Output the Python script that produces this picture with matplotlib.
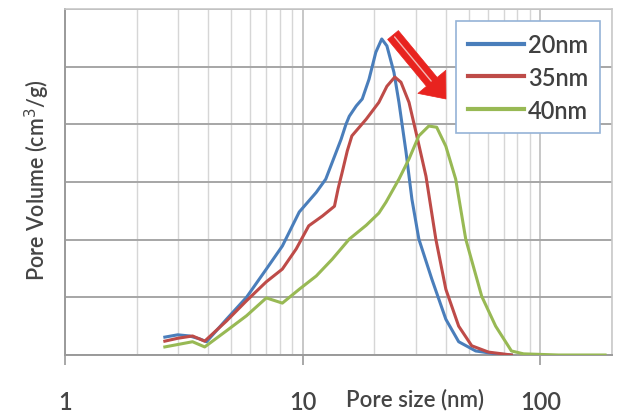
import matplotlib
matplotlib.use("Agg")
import matplotlib.pyplot as plt
from matplotlib.ticker import LogLocator, NullFormatter, FixedLocator

# Pore size distributions (pore size in nm, pore volume in cm3/g)
size_20 = [2.63, 2.98, 3.34, 3.68, 3.94, 4.78, 5.80, 7.03, 8.21, 9.67, 11.4, 12.5,
           14.5, 15.2, 15.7, 16.8, 17.8, 19.0, 20.3, 21.5, 22.6, 24.2, 25.4, 27.2, 28.8, 30.8,
           34.9, 40.0, 45.3, 53.4, 64.8, 75.5]
vol_20 = [0.031, 0.035, 0.033, 0.028, 0.023, 0.062, 0.100, 0.149, 0.189, 0.248, 0.282, 0.305,
          0.374, 0.400, 0.414, 0.432, 0.444, 0.478, 0.525, 0.548, 0.536, 0.490, 0.438, 0.352,
          0.270, 0.201, 0.132, 0.062, 0.023, 0.007, 0.002, 0.0]

size_35 = [2.63, 2.98, 3.44, 3.87, 4.78, 5.80, 7.03, 8.21, 9.39, 10.6, 12.1, 13.6,
           14.1, 14.6, 15.4, 16.1, 17.3, 18.5, 20.9, 22.6, 24.4, 25.9, 28.0, 30.2, 33.0, 36.3,
           40.0, 45.3, 51.4, 60.5, 75.5]
vol_35 = [0.024, 0.029, 0.033, 0.024, 0.059, 0.094, 0.127, 0.149, 0.184, 0.224, 0.241, 0.258,
          0.289, 0.314, 0.354, 0.380, 0.395, 0.409, 0.438, 0.466, 0.482, 0.473, 0.438, 0.380,
          0.310, 0.201, 0.114, 0.050, 0.016, 0.005, 0.0]

size_40 = [2.63, 3.44, 3.87, 4.78, 5.80, 7.03, 8.21, 9.67, 11.4, 13.3, 15.7, 18.5,
           20.9, 22.4, 25.4, 28.0, 30.8, 33.9, 36.6, 40.0, 44.0, 48.5, 56.6, 64.8,
           75.5, 84.9, 119, 187]
vol_40 = [0.014, 0.023, 0.014, 0.042, 0.068, 0.099, 0.090, 0.114, 0.137, 0.166, 0.201, 0.225,
          0.246, 0.265, 0.305, 0.340, 0.380, 0.397, 0.395, 0.362, 0.305, 0.201, 0.102, 0.050,
          0.007, 0.002, 0.0, 0.0]

series_labels = ["20nm", "35nm", "40nm"]
x_ticks = [1, 10, 100]
x_tick_labels = ["1", "10", "100"]

plt.rcParams["font.family"] = ["Lato", "DejaVu Sans"]

text_color = "#454545"

fig = plt.figure(figsize=(6.21, 4.14), dpi=100)
ax = fig.add_axes([65 / 621, 58 / 414, 547 / 621, 346 / 414])

ax.plot(size_20, vol_20, color="#4A7EBB", lw=2.2, label=series_labels[0], zorder=3,
        solid_joinstyle="round")
ax.plot(size_35, vol_35, color="#BE4B48", lw=2.2, label=series_labels[1], zorder=3,
        solid_joinstyle="round")
ax.plot(size_40, vol_40, color="#98B954", lw=2.2, label=series_labels[2], zorder=3,
        solid_joinstyle="round")

ax.set_xscale("log")
ax.set_xlim(1, 200)
ax.set_ylim(0, 0.6)

# grid: horizontal major lines and vertical lines at every log position
ax.set_yticks([0.1 * i for i in range(7)])
ax.yaxis.set_major_formatter(NullFormatter())
ax.tick_params(axis="y", length=0)
ax.xaxis.set_major_locator(FixedLocator(x_ticks))
ax.set_xticklabels(x_tick_labels)
ax.xaxis.set_minor_locator(LogLocator(base=10, subs=range(2, 10)))
ax.xaxis.set_minor_formatter(NullFormatter())
ax.grid(axis="y", which="major", color="#A6A6A6", lw=1.4)
ax.grid(axis="x", which="major", color="#BDBDBD", lw=1.2)
ax.grid(axis="x", which="minor", color="#D6D6D6", lw=1.0)
ax.set_axisbelow(True)
ax.tick_params(axis="x", which="major", direction="out", length=7, width=1.2,
               color="#9A9A9A", pad=18, labelsize=17, labelcolor=text_color)
ax.tick_params(axis="x", which="minor", length=0)
for lbl in ax.get_xticklabels():
    lbl.set_fontweight("semibold")

for side in ["top", "right"]:
    ax.spines[side].set_color("#C8C8C8")
    ax.spines[side].set_linewidth(1.2)
for side in ["left", "bottom"]:
    ax.spines[side].set_color("#9A9A9A")
    ax.spines[side].set_linewidth(1.4)

ax.set_xlabel("Pore size (nm)", fontsize=16, color=text_color, fontweight="semibold")
ax.xaxis.set_label_coords((415 - 65) / 547, -(400 - 356) / 346)
ax.xaxis.label.set_va("center")
ax.set_ylabel("Pore Volume (cm$^3$/g)", fontsize=15.5, color=text_color, fontweight="semibold")
ax.yaxis.set_label_coords(-(65 - 37) / 547, (356 - 180) / 346)
ax.yaxis.label.set_va("center")

leg = ax.legend(loc="upper right", bbox_to_anchor=((600 - 65) / 547, (356 - 22) / 346),
                borderaxespad=0, frameon=True, fancybox=False,
                handlelength=2.4, handletextpad=0.15, labelspacing=0.42,
                borderpad=0.5, labelcolor="#404040",
                prop={"size": 17, "weight": "semibold"})
leg.get_frame().set_edgecolor("#95B3D7")
leg.get_frame().set_linewidth(1.2)
leg.get_frame().set_facecolor("white")
leg.get_frame().set_alpha(1)
for line in leg.get_lines():
    line.set_linewidth(3)

# red arrow showing the peak shift toward larger pores
tail = ((393 - 65) / 547, (356 - 36) / 346)
tip = ((446 - 65) / 547, (356 - 100) / 346)
ax.annotate("", xy=tip, xytext=tail, xycoords="axes fraction", textcoords="axes fraction",
            arrowprops=dict(arrowstyle="simple,head_length=0.8,head_width=1.3,tail_width=0.5",
                            fc="#E8231F", ec="#E8231F", lw=0.5, mutation_scale=20,
                            shrinkA=0, shrinkB=0), zorder=5)
stripe_start = (tail[0] + 0.03 * (tip[0] - tail[0]), tail[1] + 0.03 * (tip[1] - tail[1]))
stripe_end = (tail[0] + 0.72 * (tip[0] - tail[0]), tail[1] + 0.72 * (tip[1] - tail[1]))
ax.annotate("", xy=stripe_end, xytext=stripe_start,
            xycoords="axes fraction", textcoords="axes fraction",
            arrowprops=dict(arrowstyle="-", color="#F4B8B4", lw=1.0, shrinkA=0, shrinkB=0),
            zorder=6)

fig.savefig("out.png", dpi=100)
